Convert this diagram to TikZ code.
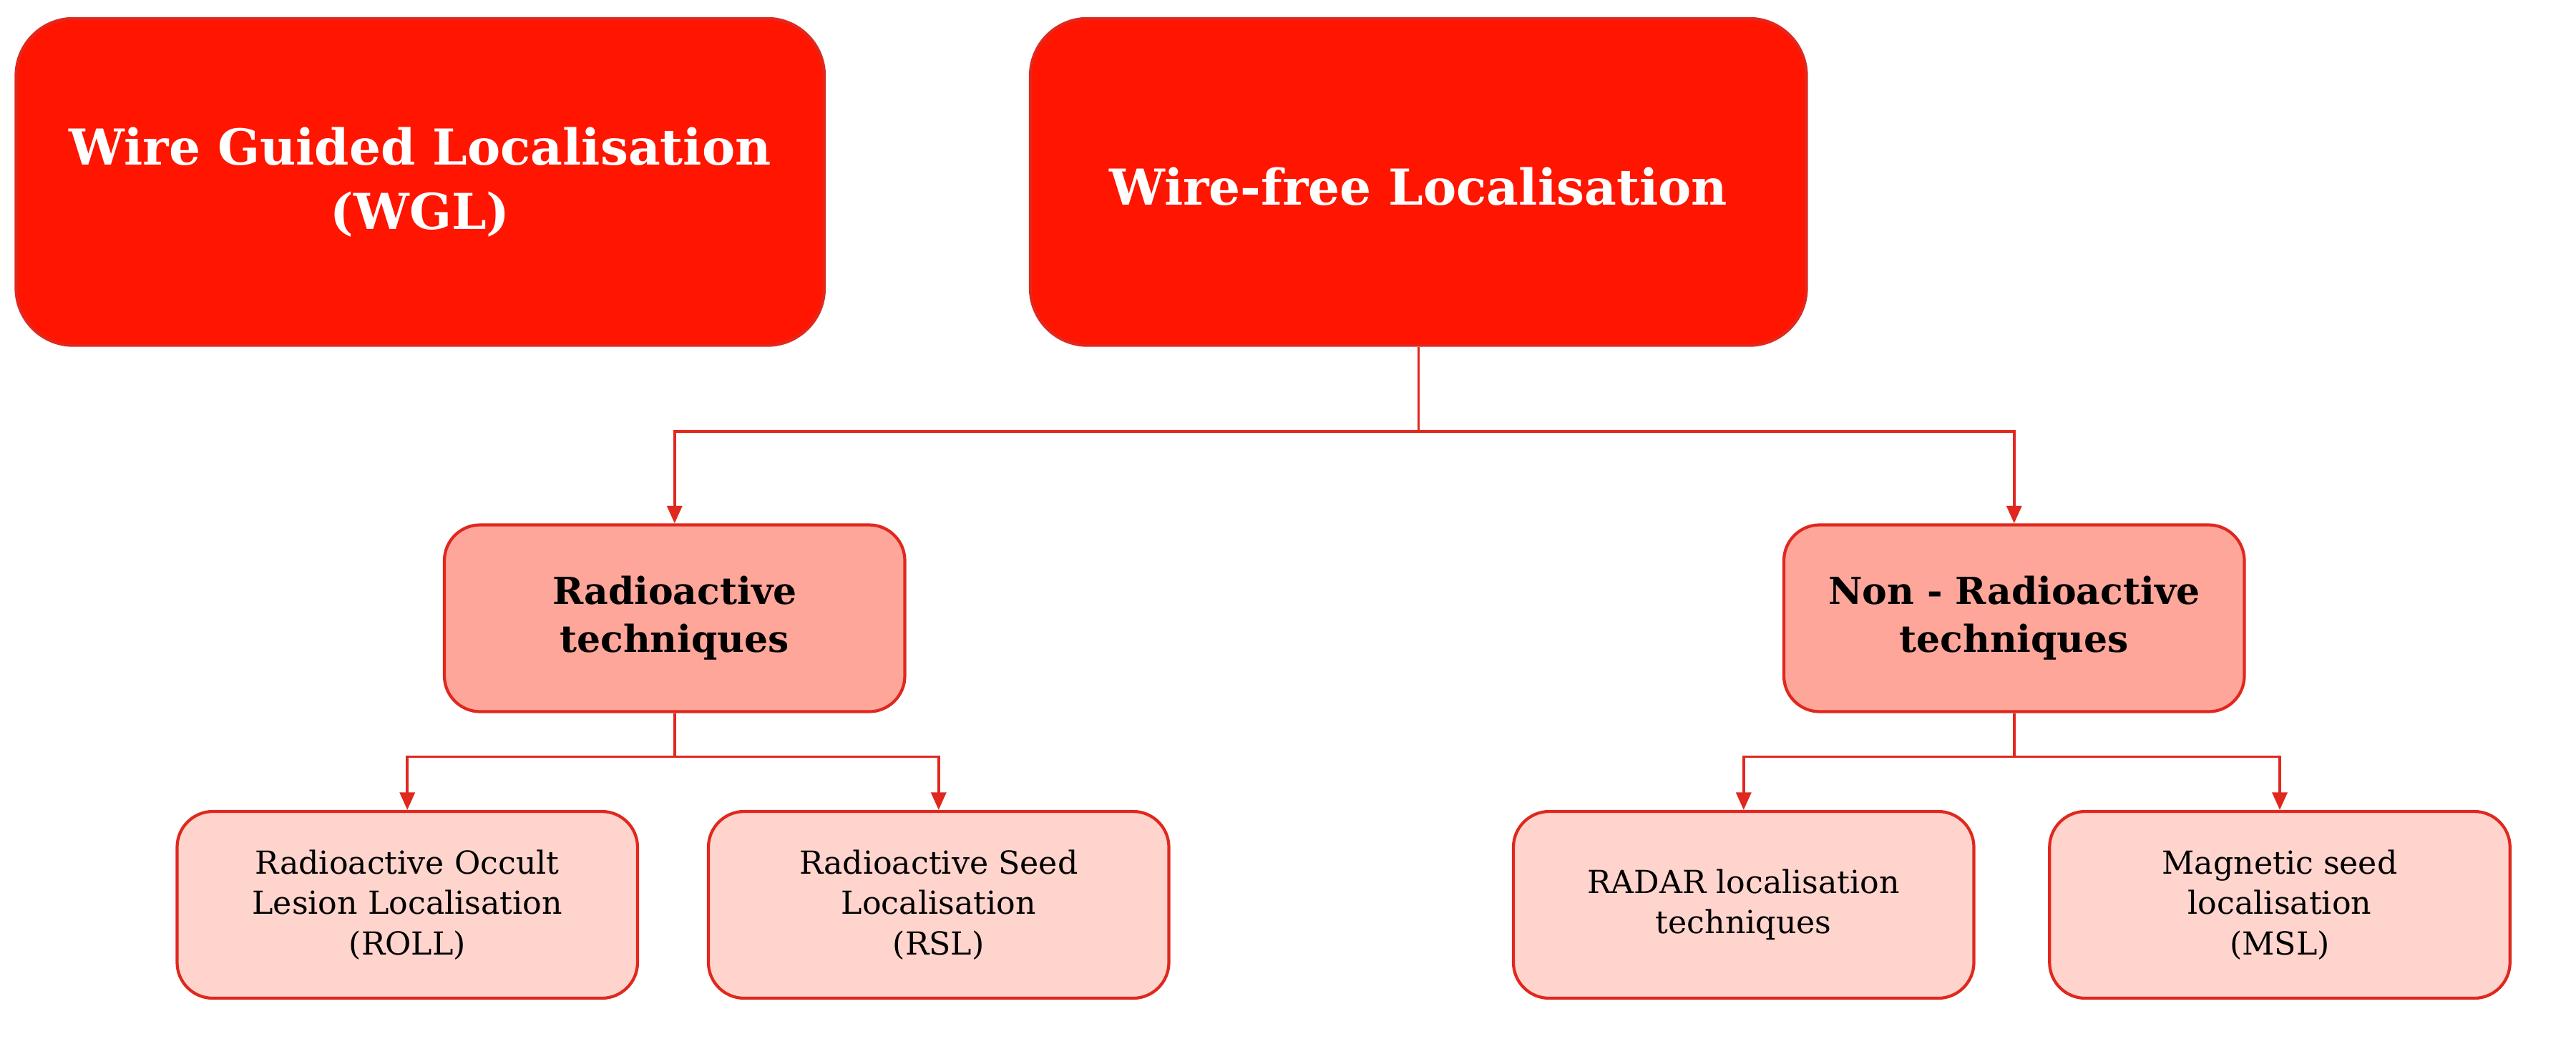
\documentclass[tikz,border=0pt]{standalone}
\usepackage{fontspec}
\setmainfont{DejaVu Serif}
\usetikzlibrary{arrows.meta}
\definecolor{bigred}{HTML}{FF1500}
\definecolor{edgered}{HTML}{E0281E}
\definecolor{midfill}{HTML}{FFA69B}
\definecolor{smallfill}{HTML}{FFD4CD}
\begin{document}
\begin{tikzpicture}[x=0.0225cm,y=-0.0225cm,
  big/.style={draw=edgered,line width=1.2pt,fill=bigred,rounded corners=0.8cm,minimum width=502*0.0225cm,minimum height=203*0.0225cm,text=white,font=\bfseries\fontsize{19.7}{25.6}\selectfont,align=center},
  mid/.style={draw=edgered,line width=1.2pt,fill=midfill,rounded corners=0.5cm,minimum width=286*0.0225cm,minimum height=116*0.0225cm,font=\bfseries\fontsize{14.8}{19}\selectfont,align=center},
  small/.style={draw=edgered,line width=1.2pt,fill=smallfill,rounded corners=0.5cm,minimum width=286*0.0225cm,minimum height=116*0.0225cm,font=\fontsize{12.6}{16}\selectfont,align=center},
  conn/.style={draw=edgered,line width=1pt},
  arr/.style={conn,-{Triangle[length=7pt,width=6pt]}}]
\useasboundingbox (0,0) rectangle (1600,648);
\node[big] (wgl) at (261,113) {Wire Guided Localisation\\(WGL)};
\node[big,minimum width=482*0.0225cm] (wf) at (881,113) {};
\node[white,font=\bfseries\fontsize{19.7}{25.6}\selectfont] (wft) at (881,116) {Wire-free Localisation};
\node[mid] (ra) at (419,384) {Radioactive\\techniques};
\node[mid] (nra) at (1251,384) {Non - Radioactive\\techniques};
\node[small] (roll) at (253,562) {Radioactive Occult\\Lesion Localisation\\(ROLL)};
\node[small] (rsl) at (583,562) {Radioactive Seed\\Localisation\\(RSL)};
\node[small] (radar) at (1083,562) {RADAR localisation\\techniques};
\node[small] (msl) at (1416,562) {Magnetic seed\\localisation\\(MSL)};
\coordinate (j1) at (881,268);
\coordinate (j2) at (419,470);
\coordinate (j3) at (1251,470);
\draw[conn] (wf.south) -- (j1);
\draw[arr] (j1) -| (ra.north);
\draw[arr] (j1) -| (nra.north);
\draw[conn] (ra.south) -- (j2);
\draw[arr] (j2) -| (roll.north);
\draw[arr] (j2) -| (rsl.north);
\draw[conn] (nra.south) -- (j3);
\draw[arr] (j3) -| (radar.north);
\draw[arr] (j3) -| (msl.north);
\end{tikzpicture}
\end{document}
